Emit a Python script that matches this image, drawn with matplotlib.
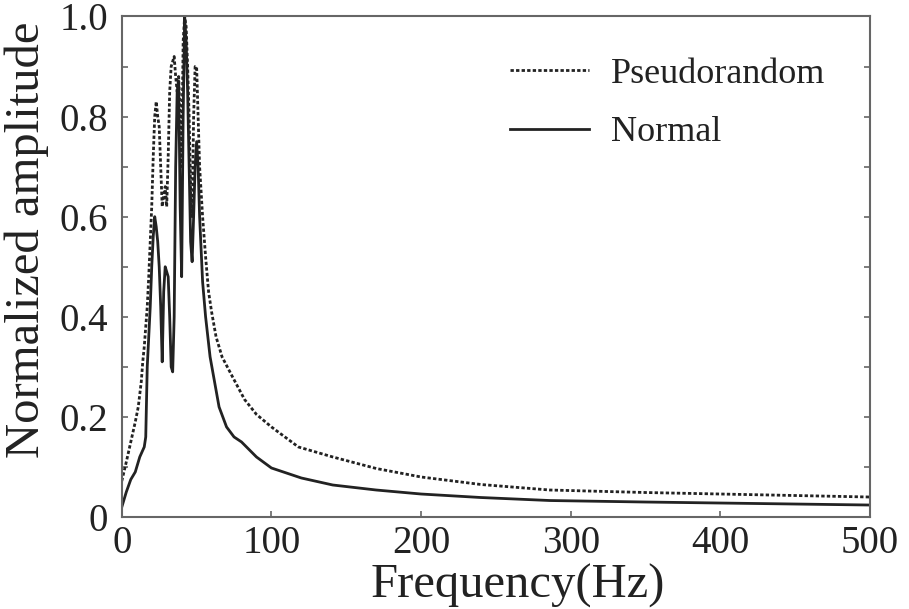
import matplotlib
matplotlib.use("Agg")
import matplotlib.pyplot as plt
from matplotlib.ticker import MultipleLocator

# Spectrum of the two excitation signals (normalised to the largest peak)
freq_pr = [0, 3, 6, 9, 11, 13, 14, 15, 17, 18, 19, 20, 21, 22, 23, 24, 25,
           26, 27, 28, 29, 30, 31, 32, 33, 34, 35, 36, 37, 38, 39, 40, 41,
           42, 43, 44, 45, 46, 47, 48, 49, 50, 51, 52, 54, 56, 58, 60, 63,
           67, 74, 82, 90, 100, 118, 141, 170, 200, 240, 286, 350, 400,
           450, 500]
amp_pr = [0.072, 0.11, 0.15, 0.19, 0.22, 0.27, 0.31, 0.34, 0.42, 0.48,
          0.55, 0.62, 0.72, 0.80, 0.83, 0.80, 0.78, 0.70, 0.62, 0.64, 0.66,
          0.62, 0.72, 0.85, 0.90, 0.91, 0.92, 0.88, 0.85, 0.88, 0.80, 0.70,
          0.95, 1.00, 0.98, 0.90, 0.80, 0.65, 0.60, 0.80, 0.90, 0.90, 0.80,
          0.70, 0.60, 0.52, 0.45, 0.41, 0.36, 0.32, 0.28, 0.235, 0.205,
          0.18, 0.14, 0.12, 0.097, 0.08, 0.065, 0.054, 0.049, 0.046,
          0.043, 0.040]

freq_nm = [0, 3, 6, 9, 12, 15, 16, 17, 19, 20, 21, 22, 23, 24, 25, 26, 27,
           28, 29, 30, 31, 32, 33, 34, 35, 36, 37, 38, 39, 40, 41, 42, 43,
           44, 45, 46, 47, 48, 49, 50, 51, 52, 54, 56, 59, 62, 65, 70, 75,
           80, 90, 100, 120, 141, 170, 200, 240, 286, 350, 400, 450, 500]
amp_nm = [0.02, 0.05, 0.075, 0.09, 0.12, 0.14, 0.16, 0.30, 0.42, 0.50,
          0.56, 0.60, 0.58, 0.55, 0.50, 0.42, 0.31, 0.45, 0.50, 0.49, 0.48,
          0.40, 0.30, 0.29, 0.40, 0.70, 0.85, 0.87, 0.62, 0.48, 0.80, 1.00,
          0.95, 0.85, 0.70, 0.55, 0.51, 0.60, 0.70, 0.75, 0.70, 0.60, 0.47,
          0.40, 0.32, 0.27, 0.22, 0.18, 0.16, 0.15, 0.12, 0.098, 0.078,
          0.064, 0.054, 0.046, 0.039, 0.033, 0.030, 0.028, 0.026, 0.024]

x_ticks = [0, 100, 200, 300, 400, 500]
y_ticks = [0, 0.2, 0.4, 0.6, 0.8, 1.0]
y_ticklabels = ["0", "0.2", "0.4", "0.6", "0.8", "1.0"]

plt.rcParams["font.family"] = ["Liberation Serif", "DejaVu Serif"]

fig = plt.figure(figsize=(9.09, 6.09), dpi=100)
ax = fig.add_axes([0.134, 0.151, 0.823, 0.822])

ink = "#222222"
ax.plot(freq_pr, amp_pr, color=ink, lw=2.0, ls=(0, (1.2, 0.8)),
        label="Pseudorandom")
ax.plot(freq_nm, amp_nm, color=ink, lw=2.0, label="Normal")

ax.set_xlim(0, 500)
ax.set_ylim(0, 1.0)
ax.set_xticks(x_ticks)
ax.set_xticklabels([str(t) for t in x_ticks])
ax.set_yticks(y_ticks)
ax.set_yticklabels(y_ticklabels)
ax.yaxis.set_minor_locator(MultipleLocator(0.1))

for sp in ax.spines.values():
    sp.set_color("#666666")
    sp.set_linewidth(1.5)

ax.tick_params(which="both", direction="in", length=4, width=1.2,
               color="#666666", labelsize=28, labelcolor=ink, right=True)
ax.tick_params(axis="x", pad=6)
ax.tick_params(axis="y", pad=10)

ax.set_xlabel("Frequency(Hz)", fontsize=35, color=ink)
ax.set_ylabel("Normalized amplitude", fontsize=35, color=ink)
ax.xaxis.set_label_coords(0.529, -0.094)
ax.yaxis.set_label_coords(-0.097, 0.554)

ax.legend(loc="upper left", bbox_to_anchor=(0.541, 0.935),
          bbox_transform=fig.transFigure, frameon=False, fontsize=26,
          handlelength=2.2, handletextpad=0.6, labelspacing=0.7,
          borderpad=0, labelcolor=ink)

fig.savefig("out.png", dpi=100)
